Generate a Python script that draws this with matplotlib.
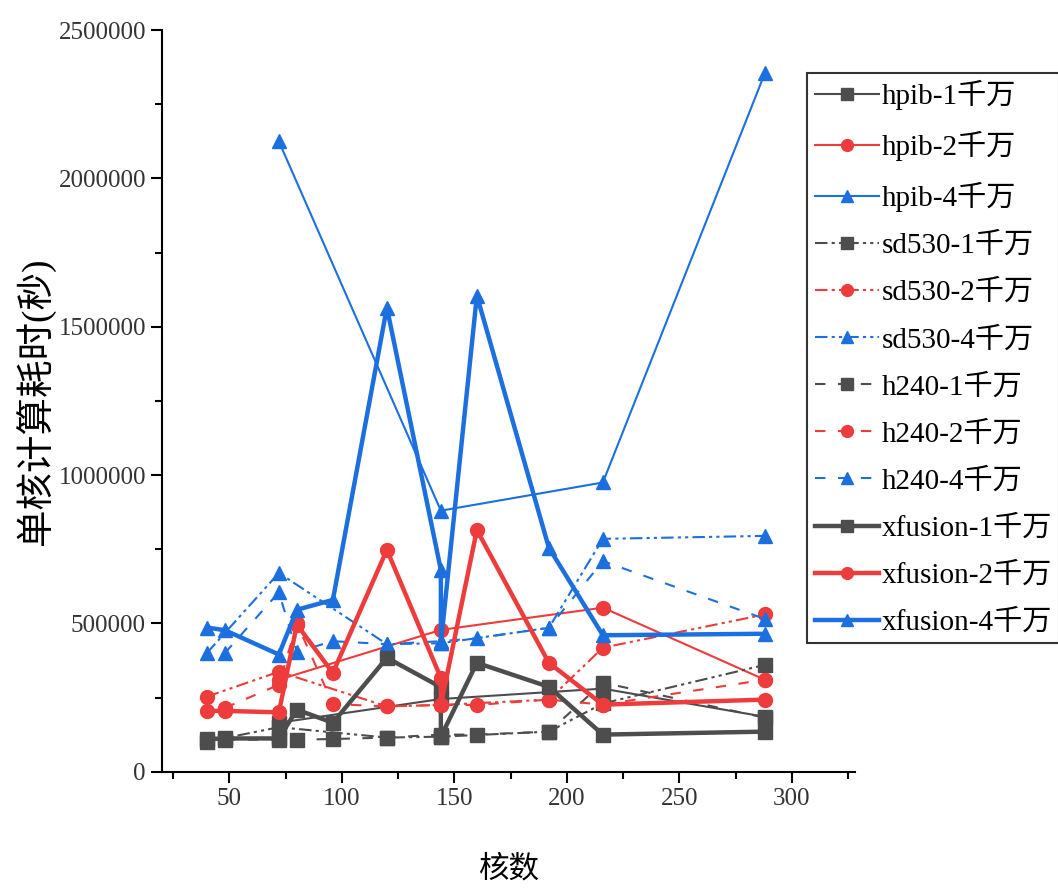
import matplotlib
matplotlib.use('Agg')
import matplotlib.pyplot as plt
from matplotlib.ticker import MultipleLocator, FormatStrFormatter

plt.rcParams['font.family'] = ['Liberation Serif', 'Noto Sans CJK SC']

# 核数
x_hpib = [72, 144, 216, 288]
x_sd530 = [40, 72, 120, 144, 192, 216, 288]
x_h240 = [48, 72, 80, 96, 120, 144, 160, 192, 216, 288]
x_xfusion = [40, 48, 72, 80, 96, 120, 144, 144, 160, 192, 216, 288]

# 单核计算耗时(秒)
hpib_1 = [165000, 245000, 280000, 185000]
hpib_2 = [310000, 478000, 553000, 310000]
hpib_4 = [2125000, 880000, 975000, 2355000]

sd530_1 = [101000, 150000, 115000, 118000, 135000, 230000, 360000]
sd530_2 = [253000, 337000, 220000, 225000, 243000, 418000, 530000]
sd530_4 = [400000, 670000, 430000, 433000, 485000, 785000, 795000]

h240_1 = [108000, 108000, 108000, 110000, 115000, 125000, 125000, 135000, 300000, 182000]
h240_2 = [215000, 293000, 500000, 228000, 220000, 225000, 225000, 243000, 226000, 310000]
h240_4 = [400000, 605000, 404000, 440000, 430000, 440000, 450000, 485000, 710000, 515000]

xfusion_1 = [110000, 112000, 112000, 209000, 165000, 384000, 285000, 118000, 367000, 286000, 125000, 135000]
xfusion_2 = [205000, 205000, 200000, 496000, 333000, 748000, 316000, 225000, 815000, 367000, 226000, 243000]
xfusion_4 = [486000, 477000, 395000, 546000, 579000, 1565000, 680000, 433000, 1605000, 755000, 460000, 465000]

gray = '#4d4d4d'
red = '#ee3b3b'
blue = '#1c6fde'

fig = plt.figure(figsize=(10.58, 8.88), dpi=100)
ax = fig.add_axes([0.153, 0.131, 0.655, 0.835])

dashdotdot = (0, (6, 2, 1.5, 2, 1.5, 2))
dashed = (0, (5, 6))

series = [
    (x_hpib, hpib_1, gray, 's', '-', 1.5, 'hpib-1千万'),
    (x_hpib, hpib_2, red, 'o', '-', 1.5, 'hpib-2千万'),
    (x_hpib, hpib_4, blue, '^', '-', 1.5, 'hpib-4千万'),
    (x_sd530, sd530_1, gray, 's', dashdotdot, 1.5, 'sd530-1千万'),
    (x_sd530, sd530_2, red, 'o', dashdotdot, 1.5, 'sd530-2千万'),
    (x_sd530, sd530_4, blue, '^', dashdotdot, 1.5, 'sd530-4千万'),
    (x_h240, h240_1, gray, 's', dashed, 1.5, 'h240-1千万'),
    (x_h240, h240_2, red, 'o', dashed, 1.5, 'h240-2千万'),
    (x_h240, h240_4, blue, '^', dashed, 1.5, 'h240-4千万'),
    (x_xfusion, xfusion_1, gray, 's', '-', 3.2, 'xfusion-1千万'),
    (x_xfusion, xfusion_2, red, 'o', '-', 3.2, 'xfusion-2千万'),
    (x_xfusion, xfusion_4, blue, '^', '-', 3.2, 'xfusion-4千万'),
]

for xs, ys, c, m, ls, lw, lab in series:
    ax.plot(xs, ys, color=c, marker=m, linestyle=ls, linewidth=lw,
            markersize=10, label=lab)

ax.set_xlim(20, 328)
ax.set_ylim(0, 2500000)
ax.xaxis.set_major_locator(MultipleLocator(50))
ax.xaxis.set_minor_locator(MultipleLocator(25))
ax.yaxis.set_major_locator(MultipleLocator(500000))
ax.yaxis.set_minor_locator(MultipleLocator(250000))
ax.yaxis.set_major_formatter(FormatStrFormatter('%d'))
ax.spines['top'].set_visible(False)
ax.spines['right'].set_visible(False)
ax.spines['left'].set_linewidth(1.5)
ax.spines['bottom'].set_linewidth(1.5)
ax.tick_params(which='major', direction='out', length=8, width=1.5, labelsize=18)
ax.tick_params(which='minor', direction='out', length=5, width=1.5)
for t in ax.get_xticklabels() + ax.get_yticklabels():
    t.set_color('#333333')

ax.set_xlabel('核数', fontsize=22, labelpad=33)
ax.set_ylabel('单核计算耗时(秒)', fontsize=27, labelpad=2)

leg = fig.legend(loc='upper left', bbox_to_anchor=(0.763, 0.918), fontsize=21,
                 frameon=True, fancybox=False, edgecolor='black',
                 handlelength=2.2, handletextpad=0.1, labelspacing=0.71,
                 borderpad=0.25, borderaxespad=0, markerscale=0.85)
leg.get_frame().set_linewidth(1.5)

fig.savefig('out.png', dpi=100)
